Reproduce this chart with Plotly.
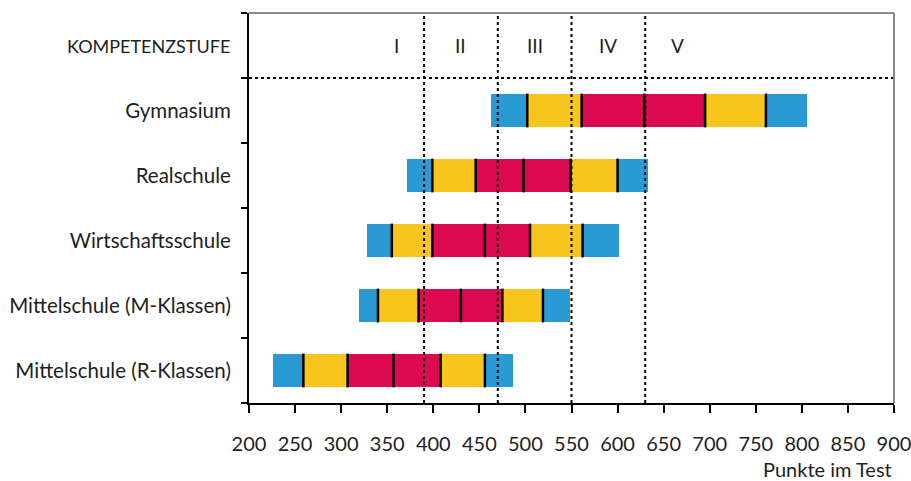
import plotly.graph_objects as go

# School types, bottom to top, plus the header row for the competence levels
schools = [
    "Mittelschule (R-Klassen)",
    "Mittelschule (M-Klassen)",
    "Wirtschaftsschule",
    "Realschule",
    "Gymnasium",
]
header = "KOMPETENZSTUFE"

# Percentile boundaries (5, 10, 25, mean, 75, 90, 95) per school type, in test points
p05 = [226, 319, 328, 371, 463]
p10 = [259, 340, 355, 399, 502]
p25 = [307, 384, 399, 446, 561]
mean = [357, 430, 456, 498, 629]
p75 = [408, 475, 505, 549, 695]
p90 = [456, 519, 562, 600, 761]
p95 = [486, 548, 602, 633, 806]

# Competence level thresholds and level labels
level_cuts = [390, 470, 550, 630]
level_names = ["I", "II", "III", "IV", "V"]
level_label_x = [360, 430, 510, 590, 665]

x_ticks = list(range(200, 901, 50))

BLUE = "#2a9ad4"
YELLOW = "#f7c51e"
RED = "#dc0a50"
segment_colors = [BLUE, YELLOW, RED, RED, YELLOW, BLUE]
bounds = [p05, p10, p25, mean, p75, p90, p95]

BAR_W = 0.52
FONT = "Lato"
TXT = "#1e1e1e"

fig = go.Figure()

for k in range(6):
    lo = bounds[k]
    hi = bounds[k + 1]
    fig.add_trace(go.Bar(
        y=schools,
        x=[h - l for l, h in zip(lo, hi)],
        base=lo,
        orientation="h",
        width=BAR_W,
        marker=dict(color=segment_colors[k], line=dict(width=0)),
        hoverinfo="skip",
        showlegend=False,
    ))

shapes = []
# black separators between the percentile bands
for k in range(1, 6):
    for i, v in enumerate(bounds[k]):
        shapes.append(dict(type="line", xref="x", yref="y",
                           x0=v, x1=v, y0=i - BAR_W / 2, y1=i + BAR_W / 2,
                           line=dict(color="black", width=2.5), layer="above"))

# dotted level thresholds
for c in level_cuts:
    shapes.append(dict(type="line", xref="x", yref="paper", x0=c, x1=c, y0=0, y1=1,
                       line=dict(color="black", width=2, dash="dot"), layer="above"))

# dotted line under the header row
shapes.append(dict(type="line", xref="paper", yref="y", x0=0, x1=1, y0=4.5, y1=4.5,
                   line=dict(color="black", width=2, dash="dot"), layer="above"))

# grey frame on top and right
shapes.append(dict(type="line", xref="paper", yref="paper", x0=0, x1=1, y0=1, y1=1,
                   line=dict(color="#8a8a8a", width=2)))
shapes.append(dict(type="line", xref="paper", yref="paper", x0=1, x1=1, y0=0, y1=1,
                   line=dict(color="#8a8a8a", width=2)))

annotations = []
for name, xv in zip(level_names, level_label_x):
    annotations.append(dict(x=xv, y=header, xref="x", yref="y", text=name,
                            showarrow=False, font=dict(family=FONT, size=19, color=TXT)))

# header row label, slightly smaller than the school names
annotations.append(dict(x=0, y=header, xref="paper", yref="y", text=header,
                        xanchor="right", yanchor="middle", xshift=-17, showarrow=False,
                        font=dict(family=FONT, size=18, color=TXT)))

annotations.append(dict(x=1, y=-0.17, xref="paper", yref="paper", text="Punkte im Test",
                        xanchor="right", yanchor="middle", showarrow=False,
                        font=dict(family=FONT, size=20, color=TXT)))

fig.update_layout(
    width=911, height=481,
    margin=dict(l=249, r=17, t=13, b=78),
    paper_bgcolor="white", plot_bgcolor="white",
    barmode="overlay",
    bargap=0,
    shapes=shapes,
    annotations=annotations,
    font=dict(family=FONT, size=20, color=TXT),
    xaxis=dict(
        range=[200, 900], tickvals=x_ticks, ticktext=[str(t) for t in x_ticks],
        showgrid=False, zeroline=False, automargin=False,
        showline=True, linecolor="black", linewidth=2,
        ticks="outside", ticklen=8, tickwidth=2, tickcolor="black",
        tickfont=dict(family=FONT, size=20, color=TXT),
        ticklabelstandoff=14, ticklabeloverflow="allow",
    ),
    yaxis=dict(
        type="category", categoryorder="array", categoryarray=schools + [header],
        tickvals=schools + [header], ticktext=schools + [""],
        range=[-0.5, 5.5], showgrid=False, zeroline=False, automargin=False,
        showline=True, linecolor="black", linewidth=2,
        ticks="outside", tickson="boundaries", ticklen=6, tickwidth=2, tickcolor="black",
        tickfont=dict(family=FONT, size=20.5, color=TXT),
        ticklabelstandoff=12,
    ),
)

fig.write_html("out.html")
